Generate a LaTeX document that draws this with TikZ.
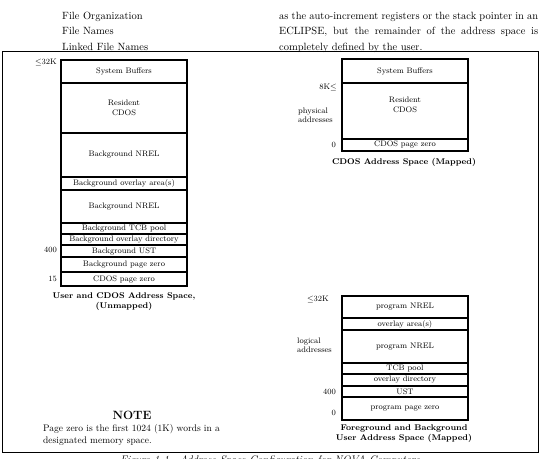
\documentclass[tikz,border=0pt]{standalone}
\usetikzlibrary{positioning}
\begin{document}
\begin{tikzpicture}[x=1pt,y=-1pt,
  seg/.style={draw,line width=1.1pt,minimum width=126pt,inner sep=0pt,outer sep=0pt,anchor=north west,align=center,font=\fontsize{8}{9.5}\selectfont},
  lbl/.style={inner sep=0pt,font=\fontsize{8}{9}\selectfont},
  captext/.style={inner sep=0pt,align=center,font=\fontsize{8.3}{10}\selectfont\bfseries},
  hdr/.style={inner sep=0pt,anchor=base west,font=\fontsize{10.5}{12}\selectfont}]
\useasboundingbox (0,0) rectangle (540,458);
% header text
\node[hdr] (h1) at (62,19) {File Organization};
\node[hdr] (h2) at (62,34.5) {File Names};
\node[hdr] (h3) at (62,50) {Linked File Names};
\node[hdr] (r1) at (279,19) {\makebox[259pt][s]{as the auto-increment registers or the stack pointer in an}};
\node[hdr] (r2) at (279,34.5) {\makebox[259pt][s]{ECLIPSE, but the remainder of the address space is}};
\node[hdr] (r3) at (279,50) {completely defined by the user.};
% frame
\draw[line width=1pt] (2,51) rectangle (538,452);
% left diagram
\node[seg,minimum height=23pt] (a1) at (61,60) {System Buffers};
\node[seg,minimum height=50pt] (a2) at (61,83) {Resident\\CDOS};
\node[seg,minimum height=44pt] (a3) at (61,133) {Background NREL};
\node[seg,minimum height=13pt] (a4) at (61,177) {Background overlay area(s)};
\node[seg,minimum height=33pt] (a5) at (61,190) {Background NREL};
\node[seg,minimum height=11pt] (a6) at (61,223) {Background TCB pool};
\node[seg,minimum height=11pt] (a7) at (61,234) {Background overlay directory};
\node[seg,minimum height=12pt] (a8) at (61,245) {Background UST};
\node[seg,minimum height=15pt] (a9) at (61,257) {Background page zero};
\node[seg,minimum height=14pt] (a10) at (61,272) {CDOS page zero};
\node[lbl,anchor=east] (la1) at (57,62) {$\leq$32K};
\node[lbl,anchor=east] (la2) at (57,250) {400};
\node[lbl,anchor=east] (la3) at (57,279) {15};
\node[captext,anchor=north] (ca) at (124,292) {User and CDOS Address Space,\\(Unmapped)};
% note
\node[inner sep=0pt,font=\fontsize{12}{14}\selectfont\bfseries] (note) at (132,415) {NOTE};
\node[inner sep=0pt,anchor=base west,font=\fontsize{9.5}{11}\selectfont] (n1) at (43,431) {Page zero is the first 1024 (1K) words in a};
\node[inner sep=0pt,anchor=base west,font=\fontsize{9.5}{11}\selectfont] (n2) at (43,443) {designated memory space.};
% right top diagram
\node[seg,minimum height=24pt] (b1) at (342,59) {System Buffers};
\node[seg,minimum height=56pt] (b2) at (342,83) {Resident\\CDOS\\[3pt]};
\node[seg,minimum height=12pt] (b3) at (342,139) {CDOS page zero};
\node[lbl,anchor=east] (lb1) at (337,87) {8K$\leq$};
\node[lbl,anchor=north west,align=left] (lb2) at (298,108) {physical\\addresses};
\node[lbl,anchor=east] (lb3) at (336,145) {0};
\node[captext,anchor=north] (cb) at (404,158) {CDOS Address Space (Mapped)};
% right bottom diagram
\node[seg,minimum height=22pt] (c1) at (342,296) {program NREL};
\node[seg,minimum height=12pt] (c2) at (342,318) {overlay area(s)};
\node[seg,minimum height=33pt] (c3) at (342,330) {program NREL};
\node[seg,minimum height=11pt] (c4) at (342,363) {TCB pool};
\node[seg,minimum height=12pt] (c5) at (342,374) {overlay directory};
\node[seg,minimum height=11pt] (c6) at (342,386) {UST};
\node[seg,minimum height=23pt] (c7) at (342,397) {program page zero};
\node[lbl,anchor=east] (lc1) at (329,299) {$\leq$32K};
\node[lbl,anchor=north west,align=left] (lc2) at (297,338) {logical\\addresses};
\node[lbl,anchor=east] (lc3) at (336,392) {400};
\node[lbl,anchor=east] (lc4) at (336,413) {0};
\node[captext,anchor=north] (cc) at (404,425) {Foreground and Background\\User Address Space (Mapped)};
% figure caption (cut off in the reference)
\node[inner sep=0pt,anchor=base,font=\fontsize{11}{13}\selectfont\itshape] (fig) at (270,463) {Figure 1-1.\ \ Address Space Configuration for NOVA Computers};
\end{tikzpicture}
\end{document}
